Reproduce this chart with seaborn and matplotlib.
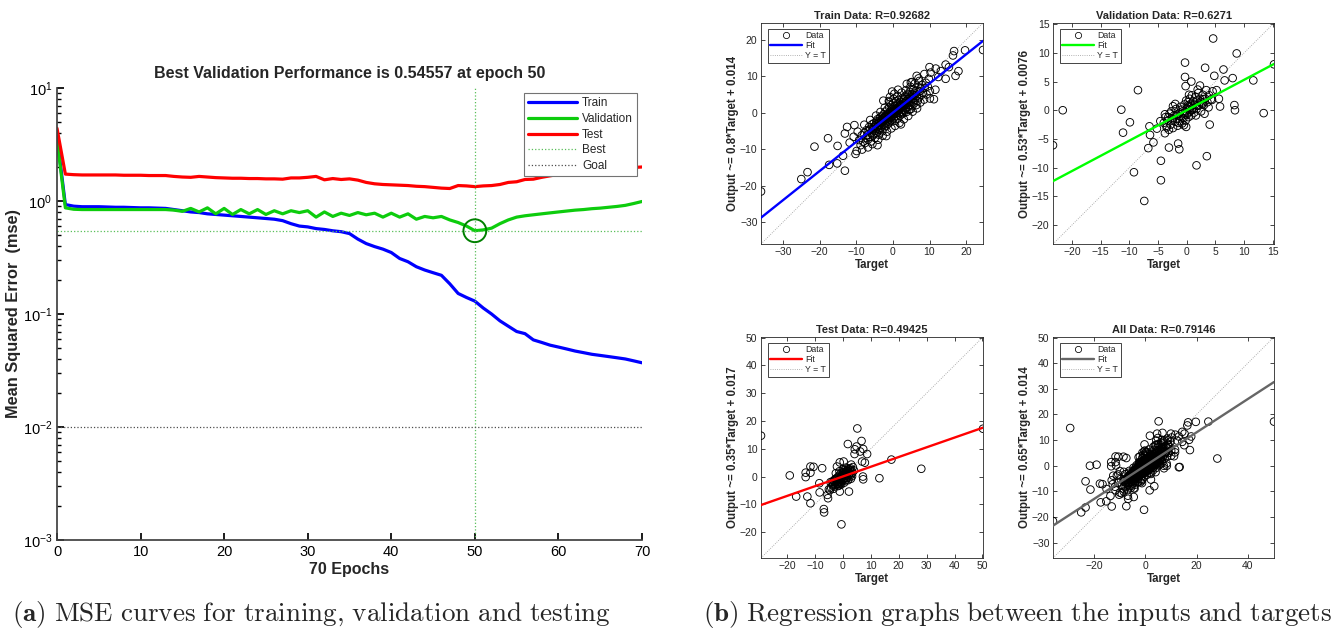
import numpy as np
import pandas as pd
import matplotlib
matplotlib.use("Agg")
import matplotlib.pyplot as plt
from matplotlib.lines import Line2D
import seaborn as sns

# ---- performance curves ----
epochs = list(range(71))
train_mse = [3.7, 0.93, 0.90, 0.89, 0.89, 0.89, 0.885, 0.88, 0.88, 0.875,
             0.87, 0.87, 0.865, 0.86, 0.84, 0.82, 0.80, 0.79, 0.77, 0.76,
             0.75, 0.74, 0.73, 0.72, 0.71, 0.70, 0.69, 0.67, 0.63, 0.60,
             0.59, 0.57, 0.56, 0.545, 0.535, 0.515, 0.46, 0.42, 0.395, 0.375,
             0.35, 0.31, 0.29, 0.262, 0.245, 0.232, 0.22, 0.185, 0.152, 0.14,
             0.13, 0.113, 0.10, 0.087, 0.078, 0.070, 0.067, 0.059, 0.056, 0.053,
             0.051, 0.049, 0.047, 0.0455, 0.044, 0.043, 0.042, 0.041, 0.040, 0.0385,
             0.037]
val_mse = [3.5, 0.87, 0.845, 0.84, 0.84, 0.84, 0.84, 0.84, 0.84, 0.84,
           0.84, 0.84, 0.84, 0.84, 0.83, 0.81, 0.86, 0.80, 0.87, 0.77,
           0.86, 0.76, 0.84, 0.77, 0.84, 0.76, 0.82, 0.77, 0.82, 0.79,
           0.82, 0.72, 0.80, 0.73, 0.78, 0.745, 0.79, 0.755, 0.78, 0.72,
           0.78, 0.72, 0.77, 0.69, 0.73, 0.71, 0.73, 0.68, 0.645, 0.60,
           0.54557, 0.555, 0.575, 0.63, 0.68, 0.72, 0.74, 0.755, 0.77, 0.785,
           0.80, 0.815, 0.83, 0.84, 0.855, 0.865, 0.88, 0.895, 0.915, 0.95,
           0.99]
test_mse = [4.4, 1.73, 1.71, 1.70, 1.70, 1.70, 1.70, 1.70, 1.69, 1.69,
            1.69, 1.68, 1.68, 1.68, 1.65, 1.63, 1.62, 1.65, 1.63, 1.61,
            1.60, 1.59, 1.59, 1.58, 1.58, 1.57, 1.57, 1.56, 1.60, 1.60,
            1.62, 1.65, 1.54, 1.58, 1.55, 1.57, 1.53, 1.46, 1.42, 1.40,
            1.39, 1.38, 1.37, 1.35, 1.34, 1.32, 1.30, 1.29, 1.37, 1.36,
            1.34, 1.36, 1.37, 1.40, 1.46, 1.48, 1.55, 1.56, 1.62, 1.67,
            1.72, 1.76, 1.80, 1.83, 1.86, 1.89, 1.92, 1.94, 1.96, 1.98,
            2.00]
best_epoch = 50
best_perf = 0.54557
goal_mse = 0.01

# ---- regression scatter points (Target, Output) ----
train_pts = [
    (-36.0, -21.6), (-25.0, -18.2), (-23.3, -16.3), (-21.4, -9.3), (-17.7, -7.0),
    (-17.4, -14.3), (-15.2, -13.9), (-15.1, -9.1), (-13.6, -11.8), (-13.1, -15.9),
    (-12.5, -3.9), (-13.1, -5.7), (-10.5, -3.4), (-10.7, -6.6), (-9.9, -10.5),
    (-0.2, 5.8), (-1.1, 3.2), (10.0, 12.5), (11.7, 12.1), (14.4, 13.2),
    (16.4, 15.7), (16.7, 16.9), (19.7, 17.1), (24.6, 17.2), (17.9, 11.4),
    (17.1, 10.1), (14.4, 9.3), (10.1, 3.9), (11.2, 3.7), (11.6, 6.3),
    (10.1, 5.9), (6.5, 10.1), (7.0, 9.4), (4.9, 8.3), (10.3, 11.0),
    (13.1, 11.4), (15.3, 12.5), (12.4, 9.8), (8.6, 10.6), (-11.8, -8.2),
    (-9.2, -7.5), (-8.8, -8.9), (-8.5, -6.2), (-8.1, -7.9), (-7.9, -5.6),
    (-7.6, -8.3), (-7.4, -6.9), (-7.2, -4.8), (-7.0, -6.1), (-6.8, -7.4),
    (-6.6, -5.0), (-6.5, -3.9), (-6.3, -6.6), (-6.1, -4.4), (-6.0, -7.9),
    (-5.8, -5.5), (-5.7, -3.2), (-5.5, -6.3), (-5.4, -4.6), (-5.2, -2.9),
    (-5.1, -5.8), (-5.0, -4.0), (-4.9, -6.9), (-4.8, -3.5), (-4.7, -4.9),
    (-4.5, -2.4), (-4.4, -5.6), (-4.3, -3.9), (-4.2, -1.8), (-4.1, -4.4),
    (-4.0, -3.0), (-3.9, -6.0), (-3.8, -2.2), (-3.7, -4.8), (-3.6, -3.4),
    (-3.5, -1.3), (-3.4, -2.8), (-3.3, -4.1), (-3.2, -2.0), (-3.1, -3.6),
    (-3.0, -0.9), (-2.9, -5.1), (-2.8, -2.6), (-2.7, -1.5), (-2.6, -3.3),
    (-2.5, -0.4), (-2.4, -2.1), (-2.3, -4.0), (-2.2, -1.1), (-2.1, -2.9),
    (-2.0, 0.3), (-1.9, -1.8), (-1.8, -3.6), (-1.7, -0.8), (-1.6, -2.4),
    (-1.5, 0.9), (-1.4, -1.3), (-1.3, -3.0), (-1.2, -0.2), (-1.1, -1.9),
    (-1.0, 1.5), (-0.9, -0.9), (-0.8, -2.6), (-0.7, 0.4), (-0.6, -1.4),
    (-0.5, 2.1), (-0.4, -0.3), (-0.3, -2.1), (-0.2, 1.0), (-0.1, -0.8),
    (0.0, 0.2), (0.1, 2.6), (0.2, -1.5), (0.3, 0.8), (0.4, -0.4),
    (0.5, 1.7), (0.6, -2.2), (0.7, 0.5), (0.8, 3.1), (0.9, -0.9),
    (1.0, 1.2), (1.1, -0.2), (1.2, 2.3), (1.3, 0.4), (1.4, -1.6),
    (1.5, 1.6), (1.6, 3.5), (1.7, 0.0), (1.8, 2.0), (1.9, -0.8),
    (2.0, 1.1), (2.1, 3.0), (2.2, 0.3), (2.3, 2.4), (2.4, -0.4),
    (2.5, 1.6), (2.6, 4.0), (2.7, 0.8), (2.8, 2.9), (2.9, -0.1),
    (3.0, 1.9), (3.1, 3.8), (3.2, 0.6), (3.3, 2.6), (3.4, 4.6),
    (3.5, 1.3), (3.6, 3.2), (3.7, 0.2), (3.8, 2.2), (3.9, 5.0),
    (4.0, 3.6), (4.1, 1.5), (4.2, 2.8), (4.3, 4.9), (4.4, 0.8),
    (4.5, 3.3), (4.6, 5.7), (4.7, 2.2), (4.8, 4.2), (4.9, 1.0),
    (5.0, 3.0), (5.2, 5.0), (5.3, 1.8), (5.5, 4.0), (5.6, 6.3),
    (5.8, 2.6), (5.9, 4.8), (6.0, 3.4), (6.2, 6.0), (6.4, 2.1),
    (6.5, 4.6), (6.7, 5.6), (6.8, 3.3), (7.0, 7.0), (7.1, 4.2),
    (7.3, 5.9), (7.5, 2.8), (7.6, 6.6), (7.8, 4.9), (8.0, 7.6),
    (8.2, 5.4), (8.5, 3.6), (8.7, 6.8), (9.0, 8.2), (9.2, 5.0),
    (9.5, 7.2), (9.8, 9.3),
    (-6.2, -2.0), (-5.6, -8.6), (-4.6, -0.8), (-4.0, -7.4), (-3.4, 0.2),
    (-2.8, -6.3), (-2.2, 1.4), (-1.6, -5.2), (-1.0, 2.9), (-0.4, -4.3),
    (0.2, 3.8), (0.6, -3.6), (1.2, 4.6), (1.8, -2.8), (2.4, 5.5),
    (3.0, -1.8), (3.6, 6.2), (4.2, -0.9), (4.8, 7.1), (5.4, 0.3),
    (6.0, 8.0), (6.6, 1.2), (7.2, 8.7), (-7.8, -3.3), (-8.4, -10.1),
    (-9.6, -5.2), (-10.2, -11.3), (-0.8, 4.3), (0.4, 5.2), (-1.8, -6.4),
    (2.2, -3.2), (5.2, 8.4), (-6.8, -9.5), (3.8, 7.9), (-4.2, -8.9),
    (1.4, 6.3), (-2.6, 3.3),
    (-2.3, -1.6), (-1.5, -1.7), (-0.9, -0.1), (-0.3, 0.2), (0.3, -0.3),
    (0.9, 1.0), (1.5, 0.8), (2.1, 1.9), (-1.1, -0.6), (-0.5, -1.1),
    (0.5, 0.1), (1.1, 0.7), (-3.0, -2.3), (3.0, 2.6), (-2.0, -1.0),
    (2.0, 2.2), (-4.6, -3.2), (4.4, 3.9), (-5.6, -4.4), (5.6, 4.9),
]
val_pts = [
    (-23.3, -6.1), (-21.6, 0.0), (-11.4, 0.1), (-9.9, -2.1), (-11.1, -3.9),
    (-9.2, -10.8), (-8.5, 3.5), (-6.5, -2.8), (-6.4, -4.3), (-5.8, -5.6),
    (-6.7, -6.6), (-4.5, -8.8), (-4.5, -12.2), (-7.4, -15.8), (-3.1, -6.5),
    (-1.3, -6.8), (-1.5, -5.8), (-0.3, 8.3), (-0.3, 5.8), (-0.2, 4.2),
    (-0.1, -2.9), (1.7, -9.6), (3.5, -8.0), (4.0, -2.5), (4.6, 12.5),
    (3.2, 7.4), (6.4, 7.1), (8.7, 9.9), (8.0, 5.6), (6.6, 5.2),
    (4.8, 6.0), (5.2, 3.5), (5.6, 2.0), (5.8, 0.65), (8.3, 0.9),
    (8.4, 0.0), (11.6, 5.2), (13.4, -0.5), (15.2, 8.0), (4.4, 1.8),
    (2.8, 1.1), (2.3, 4.3), (0.8, 5.0), (-2.4, 0.7), (-3.2, -1.2),
    (-3.8, -4.0), (-3.1, -3.4), (-3.5, -2.7),
    (-4.0, -2.2), (-3.7, -1.2), (-3.5, -3.0), (-3.3, -1.8), (-3.0, -0.6),
    (-2.8, -2.5), (-2.6, -1.4), (-2.4, -3.1), (-2.2, -0.9), (-2.0, -2.0),
    (-1.9, 0.2), (-1.7, -1.5), (-1.6, -2.7), (-1.4, -0.6), (-1.2, -1.9),
    (-1.1, 0.6), (-1.0, -1.1), (-0.8, -2.3), (-0.7, -0.2), (-0.6, -1.4),
    (-0.4, 1.0), (-0.3, -0.7), (-0.2, -1.8), (0.0, 0.3), (0.1, -0.5),
    (0.2, 1.4), (0.3, -1.2), (0.4, 0.7), (0.5, 2.0), (0.6, -0.2),
    (0.7, 1.1), (0.8, -0.9), (0.9, 2.6), (1.0, 0.4), (1.1, 1.6),
    (1.3, -0.4), (1.4, 0.9), (1.5, 2.3), (1.7, 0.2), (1.8, 1.5),
    (2.0, 3.0), (2.1, 0.8), (2.3, 2.0), (2.5, -0.2), (2.6, 1.3),
    (2.8, 2.7), (3.0, 0.9), (3.2, 2.0), (3.4, 3.5), (3.6, 1.4),
    (3.9, 2.6), (4.2, 1.9),
    (-1.8, -0.8), (-1.2, -0.4), (-0.6, -0.5), (0.0, -0.8), (0.6, 0.5),
    (1.2, 0.2), (1.8, 0.8), (-2.4, -1.6), (2.4, 1.5), (-0.9, 0.1),
    (0.3, 0.9), (0.9, 0.1), (-0.1, 1.7), (-1.4, -2.2), (1.6, -0.9),
    (-2.7, -0.2), (2.9, 1.9), (-3.8, -0.7), (3.8, 0.5), (-4.6, -1.9),
    (4.5, 3.3), (-5.2, -3.2), (-0.5, -2.6), (0.4, 2.7), (1.9, 3.6),
    (-2.0, 1.1), (3.1, -0.6),
]
test_pts = [
    (-29.3, 14.7), (-19.0, 0.4), (-16.7, -7.2), (-13.3, 1.4), (-11.6, 3.6),
    (-12.7, -7.2), (-11.6, -9.6), (-11.6, 1.4), (-10.5, 3.5), (-13.3, -0.2),
    (-7.4, 3.0), (-8.4, -2.4), (-8.3, -5.7), (-6.8, -11.7), (-6.7, -12.9),
    (-5.3, -7.8), (-5.5, -6.6), (-0.5, -17.2), (-1.1, -5.4), (2.2, -5.4),
    (1.8, 11.7), (5.2, 17.3), (4.3, 9.8), (4.9, 10.8), (6.7, 12.8),
    (7.3, 9.9), (6.2, 9.0), (4.2, 8.1), (8.7, 8.1), (6.9, 5.4),
    (7.9, 5.0), (7.2, 0.0), (7.3, -1.0), (13.1, -0.6), (17.4, 6.1),
    (28.1, 2.8), (50.2, 17.2), (-2.1, 3.6), (-1.1, 5.1), (0.3, 5.4),
    (-3.5, -2.8), (-3.2, -1.5), (-3.0, -3.6), (-2.8, -2.2), (-2.6, -0.8),
    (-2.4, -3.0), (-2.2, -1.7), (-2.0, -0.4), (-1.8, -2.5), (-1.6, -1.2),
    (-1.4, 0.3), (-1.3, -3.2), (-1.1, -1.8), (-1.0, -0.5), (-0.8, 1.0),
    (-0.7, -2.3), (-0.5, -0.9), (-0.3, 0.5), (-0.2, -1.6), (0.0, -0.2),
    (0.1, 1.6), (0.3, -1.0), (0.4, 0.7), (0.6, 2.3), (0.7, -0.4),
    (0.9, 1.2), (1.0, -1.4), (1.2, 0.3), (1.3, 2.0), (1.5, -0.6),
    (1.6, 1.0), (1.8, 2.8), (2.0, 0.4), (2.1, 1.7), (2.3, -0.3),
    (2.5, 1.2), (2.7, 3.0), (2.9, 0.7), (3.1, 2.2), (3.4, 1.3),
    (3.6, 3.4), (-4.2, -3.9), (-5.0, -4.6), (-4.4, -2.0),
    (-2.9, -1.1), (-2.1, -2.6), (-1.5, -0.1), (-0.9, -1.2), (-0.4, 0.1),
    (0.2, 0.6), (0.8, 0.2), (1.4, 1.4), (2.2, 0.9), (-1.7, -3.4),
    (0.0, 2.6), (-0.6, -2.9), (1.1, 3.2), (2.6, 2.1), (-3.8, -1.8),
    (-4.6, -4.9), (3.0, 4.3), (-2.5, 1.2), (1.9, -1.3), (-1.2, 1.9),
    (0.5, -2.2), (2.9, -0.8), (-3.3, -4.4), (4.0, 2.2), (3.3, 0.1),
    (-2.3, -0.9), (-1.9, -1.9), (-1.2, -2.6), (-0.8, -0.2), (-0.1, 1.0),
    (0.6, 1.6), (1.2, -0.4), (1.7, 2.2), (2.4, 2.6), (-3.6, -3.2),
]
all_pts = train_pts + val_pts + test_pts

fits = {
    "Train": (0.8, 0.014, 0.92682),
    "Validation": (0.53, 0.0076, 0.6271),
    "Test": (0.35, 0.017, 0.49425),
    "All": (0.65, 0.014, 0.79146),
}

W, H = 1344, 632
sns.set_theme(style="ticks")
plt.rcParams['font.family'] = ['Liberation Sans', 'DejaVu Sans']
plt.rcParams['mathtext.fontset'] = 'cm'

fig = plt.figure(figsize=(W / 100, H / 100), dpi=100)
fig.patch.set_facecolor("white")

# ---------------- (a) performance plot ----------------
blue, green, red = (0, 0, 1), (0.05, 0.8, 0.05), (1, 0, 0)
best_col = (0.35, 0.75, 0.35)
ax = fig.add_axes([57 / W, 1 - 540 / H, 585 / W, 452 / H])
perf = pd.DataFrame({"epoch": epochs, "Train": train_mse,
                     "Validation": val_mse, "Test": test_mse})
sns.lineplot(data=perf, x="epoch", y="Train", ax=ax, color=blue, lw=2.3)
sns.lineplot(data=perf, x="epoch", y="Validation", ax=ax, color=green, lw=2.3)
sns.lineplot(data=perf, x="epoch", y="Test", ax=ax, color=red, lw=2.3)
ax.set_yscale("log")
ax.set_xlim(0, 70)
ax.set_ylim(1e-3, 1e1)
ax.axhline(best_perf, color=best_col, ls=":", lw=0.9)
ax.axvline(best_epoch, color=best_col, ls=":", lw=0.9)
ax.axhline(goal_mse, color="0.3", ls=":", lw=0.9)
sns.scatterplot(x=[best_epoch], y=[best_perf], ax=ax, s=270, marker="o",
                facecolor="none", edgecolor=(0, 0.5, 0), linewidth=1.4, zorder=5)
ax.set_xticks(range(0, 71, 10))
sns.despine(ax=ax)
ax.tick_params(which="both", direction="in", labelsize=10.5, colors="black")
ax.tick_params(which="major", length=5)
ax.tick_params(which="minor", length=3)
for sp in ax.spines.values():
    sp.set_color("0.25")
ax.set_title("Best Validation Performance is 0.54557 at epoch 50",
             fontsize=11.5, fontweight="bold", pad=7)
ax.set_xlabel("70 Epochs", fontsize=11.5, fontweight="bold", labelpad=2)
ax.set_ylabel("Mean Squared Error  (mse)", fontsize=11.8, fontweight="bold", labelpad=1)
handles = [Line2D([], [], color=blue, lw=2.3), Line2D([], [], color=green, lw=2.3),
           Line2D([], [], color=red, lw=2.3),
           Line2D([], [], color=best_col, ls=":", lw=0.9),
           Line2D([], [], color="0.3", ls=":", lw=0.9)]
leg = ax.legend(handles, ["Train", "Validation", "Test", "Best", "Goal"],
                loc="upper right", bbox_to_anchor=(637 / W, 1 - 93 / H),
                bbox_transform=fig.transFigure, fontsize=8.5, frameon=True,
                fancybox=False, framealpha=1, edgecolor="0.45",
                handlelength=4.2, handletextpad=0.4, borderpad=0.35,
                labelspacing=0.32, borderaxespad=0)
leg.get_frame().set_linewidth(0.8)

# ---------------- (b) regression plots ----------------
def regression_panel(rect, pts, name, color, xticks, yticks, title_name):
    slope, icpt, r = fits[name]
    axr = fig.add_axes(rect)
    df = pd.DataFrame(pts, columns=["Target", "Output"])
    lo = min(df["Target"].min(), df["Output"].min())
    hi = max(df["Target"].max(), df["Output"].max())
    sns.scatterplot(data=df, x="Target", y="Output", ax=axr, marker="o", s=30,
                    facecolor="none", edgecolor="black", linewidth=0.65, zorder=3)
    xs = np.array([lo, hi])
    sns.lineplot(x=xs, y=slope * xs + icpt, ax=axr, color=color, lw=1.7, zorder=4)
    axr.plot(xs, xs, ls=":", color="0.6", lw=0.6, zorder=2)
    axr.set_xlim(lo, hi)
    axr.set_ylim(lo, hi)
    axr.set_xticks(xticks)
    axr.set_yticks(yticks)
    axr.tick_params(direction="in", top=True, right=True, labelsize=7.5,
                    colors="#262626", length=3, width=0.6, pad=2.5)
    for sp in axr.spines.values():
        sp.set_color("#262626")
        sp.set_linewidth(0.6)
    axr.set_title(f"{title_name}: R={r:g}", fontsize=8, fontweight="bold", pad=3)
    axr.set_xlabel("Target", fontsize=8.3, fontweight="bold", labelpad=1)
    axr.set_ylabel(f"Output ~= {slope:g}*Target + {icpt:g}", fontsize=8.3,
                   fontweight="bold", labelpad=1)
    hs = [Line2D([], [], marker="o", ls="none", mfc="none", mec="black", ms=4.5, mew=0.55),
          Line2D([], [], color=color, lw=1.7),
          Line2D([], [], color="0.6", ls=":", lw=0.6)]
    lg = axr.legend(hs, ["Data", "Fit", "Y = T"], loc="upper left",
                    bbox_to_anchor=(0.03, 0.975), fontsize=6.3, frameon=True,
                    fancybox=False, framealpha=1, edgecolor="#262626",
                    handlelength=3.6, handletextpad=0.4, borderpad=0.3,
                    labelspacing=0.12, borderaxespad=0)
    lg.get_frame().set_linewidth(0.6)
    return axr

regression_panel([761 / W, 1 - 244 / H, 222 / W, 221 / H], train_pts, "Train",
                 (0, 0, 1), [-30, -20, -10, 0, 10, 20], [-30, -20, -10, 0, 10, 20],
                 "Train Data")
regression_panel([1053 / W, 1 - 244 / H, 221 / W, 221 / H], val_pts, "Validation",
                 (0, 1, 0), list(range(-20, 16, 5)), list(range(-20, 16, 5)),
                 "Validation Data")
regression_panel([761 / W, 1 - 558 / H, 222 / W, 221 / H], test_pts, "Test",
                 (1, 0, 0), list(range(-20, 51, 10)), list(range(-20, 51, 10)),
                 "Test Data")
regression_panel([1053 / W, 1 - 558 / H, 221 / W, 221 / H], all_pts, "All",
                 (0.4, 0.4, 0.4), [-20, 0, 20, 40], list(range(-30, 51, 10)),
                 "All Data")

# ---------------- captions ----------------
fig.text(311 / W, 1 - 614 / H,
         r"$\mathbf{(a)}\ \mathrm{MSE\ curves\ for\ training{,}\ validation\ and\ testing}$",
         ha="center", va="center", fontsize=19.5)
fig.text(1018 / W, 1 - 614 / H,
         r"$\mathbf{(b)}\ \mathrm{Regression\ graphs\ between\ the\ inputs\ and\ targets}$",
         ha="center", va="center", fontsize=19.5)

fig.savefig("out.png", dpi=100, facecolor="white")
